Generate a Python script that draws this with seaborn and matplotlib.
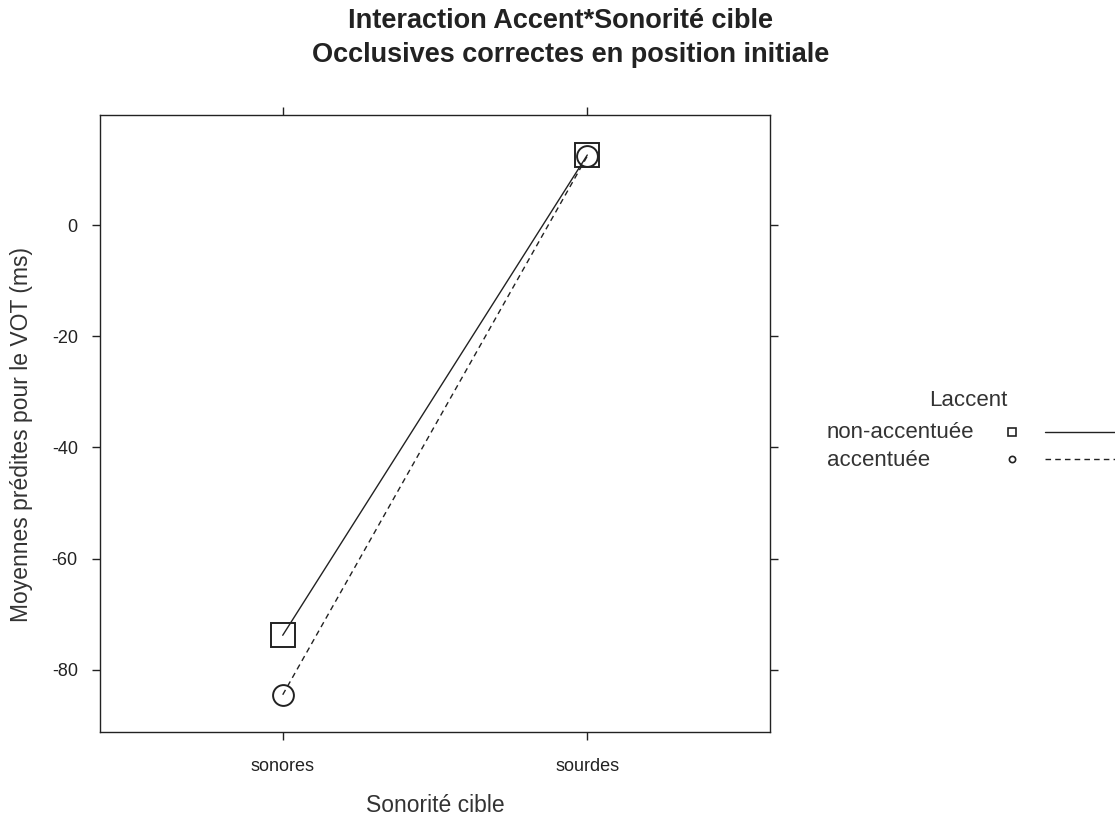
import matplotlib
matplotlib.use("Agg")
import matplotlib.pyplot as plt
from matplotlib.lines import Line2D
import seaborn as sns
import pandas as pd

categories = ["sonores", "sourdes"]
non_accentuee = [-73.8, 12.6]
accentuee = [-84.5, 12.4]
series_names = ["non-accentuée", "accentuée"]
y_ticks = [0, -20, -40, -60, -80]

df = pd.DataFrame({
    "Sonorité": [1, 2, 1, 2],
    "valeur": non_accentuee + accentuee,
    "Laccent": [series_names[0]] * 2 + [series_names[1]] * 2,
})

sns.set_theme(style="white")
plt.rcParams['font.family'] = ['Liberation Sans', 'DejaVu Sans']

W, H = 1115, 816
fig = plt.figure(figsize=(W / 100, H / 100), dpi=100)
ax = fig.add_axes([100 / W, 1 - 732 / H, 670 / W, 617 / H])

ink = "#222222"
sns.lineplot(data=df, x="Sonorité", y="valeur", hue="Laccent", style="Laccent",
             palette={series_names[0]: ink, series_names[1]: ink},
             markers={series_names[0]: "s", series_names[1]: "o"},
             dashes={series_names[0]: "", series_names[1]: (4, 3)},
             markersize=16, markerfacecolor="none", markeredgecolor=ink,
             markeredgewidth=1.4, linewidth=1.0, legend=False, ax=ax)
for ln in ax.lines:
    if ln.get_marker() == "s":
        ln.set_markersize(17)
    elif ln.get_marker() == "o":
        ln.set_markersize(15)

ax.set_xlim(0.4, 2.6)
ax.set_ylim(-91.2, 19.8)
ax.set_xticks([1, 2])
ax.set_xticklabels(categories, fontsize=13, color=ink)
ax.set_yticks(y_ticks)
ax.set_yticklabels([str(v) for v in y_ticks], fontsize=13, color=ink)
ax.tick_params(axis="both", which="both", direction="out", length=6, width=1,
               colors=ink, top=True, right=True, labeltop=False, labelright=False,
               bottom=True, left=True, labelcolor=ink)
ax.tick_params(axis="y", pad=10)
ax.tick_params(axis="x", pad=13)
for s in ax.spines.values():
    s.set_color(ink)
    s.set_linewidth(1.0)

ax.set_xlabel("Sonorité cible", fontsize=16.5, color="#333333")
ax.xaxis.set_label_coords(0.5, (732 - 812) / 617)
ax.xaxis.label.set_va("baseline")
ax.set_ylabel("Moyennes prédites pour le VOT (ms)", fontsize=16.5, color="#333333")
ax.yaxis.set_label_coords((22 - 100) / 670, (732 - 434) / 617)
ax.yaxis.label.set_va("center")

fig.text(561 / W, 1 - 28 / H, "Interaction Accent*Sonorité cible", ha="center", va="baseline",
         fontsize=19.5, fontweight="bold", color=ink)
fig.text(571 / W, 1 - 62 / H, "Occlusives correctes en position initiale", ha="center", va="baseline",
         fontsize=19.5, fontweight="bold", color=ink)

# legend
fig.text(968 / W, 1 - 401 / H, "Laccent", ha="center", va="center", fontsize=16, color="#333333")
fig.text(827 / W, 1 - 432 / H, series_names[0], ha="left", va="center", fontsize=16, color="#333333")
fig.text(827 / W, 1 - 460 / H, series_names[1], ha="left", va="center", fontsize=16, color="#333333")
fig.add_artist(Line2D([1012 / W], [1 - 432 / H], marker="s", markersize=6, markerfacecolor="none",
                      markeredgecolor=ink, markeredgewidth=1.2, transform=fig.transFigure))
fig.add_artist(Line2D([1012 / W], [1 - 459 / H], marker="o", markersize=4.5, markerfacecolor="none",
                      markeredgecolor=ink, markeredgewidth=1.2, transform=fig.transFigure))
fig.add_artist(Line2D([1045 / W, 1.0], [1 - 432 / H] * 2, color=ink, linewidth=1.0,
                      transform=fig.transFigure))
fig.add_artist(Line2D([1045 / W, 1.0], [1 - 459 / H] * 2, color=ink, linewidth=1.0,
                      dashes=(4, 3), transform=fig.transFigure))

fig.savefig("out.png", dpi=100, facecolor="white")
